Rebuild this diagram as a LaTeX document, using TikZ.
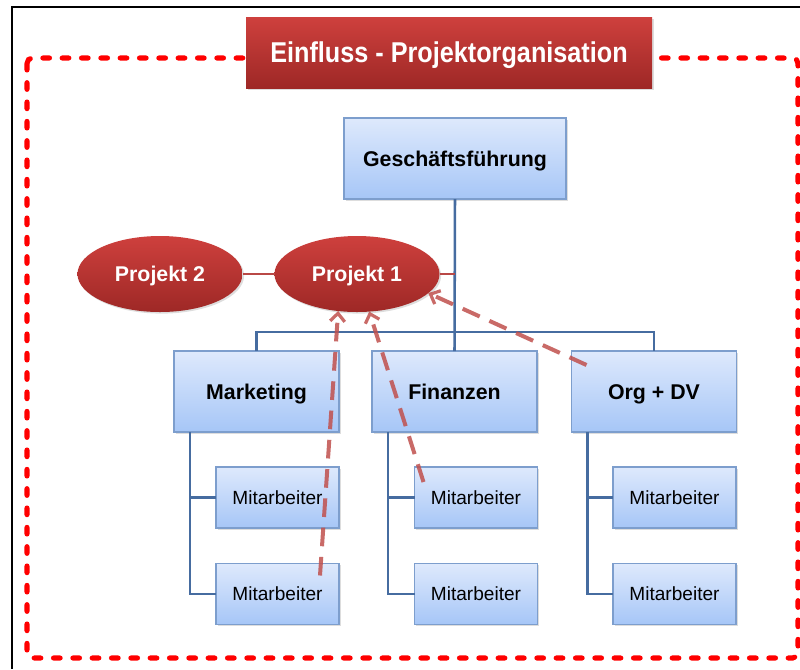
\documentclass[tikz,border=0pt]{standalone}
\usepackage{fontspec}
\setmainfont{Liberation Sans}
\newfontfamily\titlefont[FakeStretch=0.88]{Liberation Sans}
\usetikzlibrary{shapes.geometric,arrows.meta,calc,shadows}

\definecolor{boxtop}{RGB}{222,233,252}
\definecolor{boxbot}{RGB}{166,198,247}
\definecolor{boxline}{RGB}{125,158,205}
\definecolor{treeline}{RGB}{70,108,160}
\definecolor{redtop}{RGB}{206,64,61}
\definecolor{redbot}{RGB}{158,40,38}
\definecolor{projline}{RGB}{185,72,70}
\definecolor{influence}{RGB}{192,80,77}

\tikzset{
  softshadow/.style={drop shadow={shadow xshift=1.2pt,shadow yshift=-1.2pt,opacity=0.22,fill=black!60}},
  unitbox/.style={rectangle,draw=boxline,line width=0.9pt,top color=boxtop,bottom color=boxbot,
    inner sep=0pt,outer sep=0pt,softshadow,text=black,align=center},
  boldlabel/.style={font=\fontsize{16}{19}\selectfont\bfseries,text height=11.5pt,text depth=0pt},
  headbox/.style={unitbox,minimum width=123.75pt,minimum height=60.75pt,boldlabel},
  staffbox/.style={unitbox,minimum width=92.25pt,minimum height=45.75pt,
    font=\fontsize{14.3}{17}\selectfont,text height=10.2pt,text depth=0pt},
  project/.style={ellipse,draw=none,top color=redtop,bottom color=redbot,inner sep=0pt,outer sep=0pt,
    minimum width=123.75pt,minimum height=57pt,softshadow,text=white,boldlabel},
  orgline/.style={draw=treeline,line width=1.9pt},
  linkline/.style={draw=projline,line width=1.6pt},
  influencearrow/.style={draw=influence,draw opacity=0.85,line width=3pt,dash pattern=on 14pt off 8pt,
    -{Straight Barb[length=6pt,width=11pt,line width=2.4pt]}},
  frameline/.style={draw=red,line width=3.8pt,line cap=round,dash pattern=on 5pt off 9.5pt,rounded corners=4pt}
}

\begin{document}
\begin{tikzpicture}[x=0.75pt,y=-0.75pt]
  \useasboundingbox (0,0) rectangle (800,669);
  \fill[white] (0,0) rectangle (800,669);

  % outer black frame (top and left edges)
  \draw[black,line width=1.6pt] (800,7) -- (12,7) -- (12,669);

  % dashed red boundary of the project influence area
  \draw[frameline] (27,58) rectangle (798,658);

  % title banner
  \node[rectangle,top color=redtop,bottom color=redbot,draw=none,inner sep=0pt,outer sep=0pt,
        minimum width=304.5pt,minimum height=53.25pt,softshadow,text=white,
        font=\titlefont\fontsize{21.5}{25}\selectfont\bfseries,text height=15.4pt,text depth=0pt]
        (title) at (449,52.5) {Einfluss - Projektorganisation};

  % management and departments
  \node[unitbox,minimum width=166.5pt,minimum height=60.75pt,boldlabel]
        (gf) at (455,158.5) {Geschäftsführung};
  \node[headbox] (mk)  at (256.5,391.5) {Marketing};
  \node[headbox] (fin) at (454.5,391.5) {Finanzen};
  \node[headbox] (org) at (654,391.5)   {Org + DV};

  % staff
  \node[staffbox] (mk1)  at (277.5,497.5) {Mitarbeiter};
  \node[staffbox] (mk2)  at (277.5,594)   {Mitarbeiter};
  \node[staffbox] (fin1) at (476,497.5)   {Mitarbeiter};
  \node[staffbox] (fin2) at (476,594)     {Mitarbeiter};
  \node[staffbox] (org1) at (674.5,497.5) {Mitarbeiter};
  \node[staffbox] (org2) at (674.5,594)   {Mitarbeiter};

  % projects
  \node[project] (p2) at (160,274) {Projekt 2};
  \node[project] (p1) at (357,274) {Projekt 1};

  % hierarchy lines
  \coordinate (bar) at (455,332);
  \draw[orgline] (gf.south) -- (fin.north);
  \draw[orgline] (mk.north) -- (mk.north |- bar) -- (org.north |- bar) -- (org.north);

  \coordinate (mkt)  at ($(mk.south west)+(16,0)$);
  \coordinate (fint) at ($(fin.south west)+(16,0)$);
  \coordinate (orgt) at ($(org.south west)+(16,0)$);
  \draw[orgline] (mkt) |- (mk2.west);
  \draw[orgline] (mkt |- mk1.west) -- (mk1.west);
  \draw[orgline] (fint) |- (fin2.west);
  \draw[orgline] (fint |- fin1.west) -- (fin1.west);
  \draw[orgline] (orgt) |- (org2.west);
  \draw[orgline] (orgt |- org1.west) -- (org1.west);

  % project links
  \draw[linkline] (p2) -- (p1);
  \draw[linkline] (p1.east) -- (p1.east -| gf.south);

  % staff and department influence on Projekt 1
  \coordinate (s1) at ($(mk2.north east)+(-19,12)$);
  \coordinate (s2) at ($(fin1.north west)+(9,15)$);
  \coordinate (s3) at ($(org.north west)+(15,14)$);
  \draw[influencearrow] (s1) -- (p1.243);
  \draw[influencearrow] (s2) -- (p1.288);
  \draw[influencearrow] (s3) -- (p1.345);
\end{tikzpicture}
\end{document}
